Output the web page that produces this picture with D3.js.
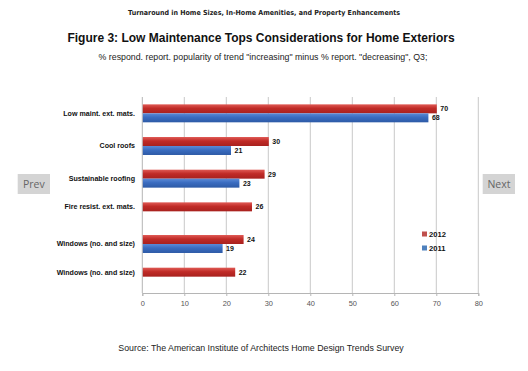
<!DOCTYPE html>
<html>
<head>
<meta charset="utf-8">
<script src="https://cdn.jsdelivr.net/npm/d3@7"></script>
<style>
  body { margin: 0; background: #fff; }
  svg { display: block; }
  .cat-label { font-family: "Liberation Sans", Arial, sans-serif; font-size: 7.1px; font-weight: bold; fill: #111; }
  .val-label { font-family: "Liberation Sans", Arial, sans-serif; font-size: 7px; font-weight: bold; fill: #111; }
  .tick-label { font-family: "Liberation Sans", Arial, sans-serif; font-size: 7.4px; fill: #555; }
</style>
</head>
<body>
<div id="chart"></div>
<script>
const width = 528;
const height = 371;

// data
const categories = ["Low maint. ext. mats.", "Cool roofs", "Sustainable roofing", "Fire resist. ext. mats.", "Windows (no. and size)", "Windows (no. and size) "];
const years = ["2012", "2011"];
const values2012 = [70, 30, 29, 26, 24, 22];
const values2011 = [68, 21, 23, null, 19, null];
const xTicks = [0, 10, 20, 30, 40, 50, 60, 70, 80];

const header = "Turnaround in Home Sizes, In-Home Amenities, and Property Enhancements";
const title = "Figure 3: Low Maintenance Tops Considerations for Home Exteriors";
const subtitle = "% respond. report. popularity of trend \"increasing\" minus % report. \"decreasing\", Q3;";
const source = "Source: The American Institute of Architects Home Design Trends Survey";

const plot = {left: 142.3, right: 478.3, top: 97, bottom: 293};

const svg = d3.select("#chart")
    .append("svg")
    .attr("width", width)
    .attr("height", height)
    .attr("viewBox", `0 0 ${width} ${height}`);

// gradients for the bars
const defs = svg.append("defs");
const grads = {"2012": ["#e05a55", "#c02b27", "#a8211e"], "2011": ["#5b8ad6", "#3a6cc0", "#2d5aa6"]};
years.forEach(yr => {
    const g = defs.append("linearGradient")
        .attr("id", "grad" + yr)
        .attr("x1", 0).attr("y1", 0).attr("x2", 0).attr("y2", 1);
    g.append("stop").attr("offset", "0%").attr("stop-color", grads[yr][0]);
    g.append("stop").attr("offset", "45%").attr("stop-color", grads[yr][1]);
    g.append("stop").attr("offset", "100%").attr("stop-color", grads[yr][2]);
});

// header texts
svg.append("text")
    .text(header)
    .attr("x", 264).attr("y", 14.5)
    .attr("text-anchor", "middle")
    .attr("textLength", 272)
    .attr("lengthAdjust", "spacingAndGlyphs")
    .style("font-family", "'DejaVu Sans', Verdana, sans-serif")
    .style("font-weight", "bold")
    .style("font-size", "7px")
    .style("fill", "#222");

svg.append("text")
    .text(title)
    .attr("x", 261).attr("y", 42)
    .attr("text-anchor", "middle")
    .style("font-family", "'Liberation Sans', Arial, sans-serif")
    .style("font-weight", "bold")
    .style("font-size", "12px")
    .style("fill", "#111");

svg.append("text")
    .text(subtitle)
    .attr("x", 263).attr("y", 60)
    .attr("text-anchor", "middle")
    .style("font-family", "'Liberation Sans', Arial, sans-serif")
    .style("font-size", "8.8px")
    .style("fill", "#222");

svg.append("text")
    .text(source)
    .attr("x", 261).attr("y", 351)
    .attr("text-anchor", "middle")
    .style("font-family", "'Liberation Sans', Arial, sans-serif")
    .style("font-size", "8.8px")
    .style("fill", "#222");

// scales
const xScale = d3.scaleLinear()
    .domain([0, 80])
    .range([plot.left, plot.right]);

const yScale = d3.scaleBand()
    .domain(categories)
    .range([plot.top, plot.bottom])
    .paddingInner(0.45)
    .paddingOuter(0.225);

const ySub = d3.scaleBand()
    .domain(years)
    .range([0, yScale.bandwidth()]);

// gridlines
svg.append("g")
    .selectAll("line")
    .data(xTicks.slice(1))
    .join("line")
    .attr("x1", d => xScale(d)).attr("x2", d => xScale(d))
    .attr("y1", plot.top).attr("y2", plot.bottom)
    .attr("stroke", "#c9c9c9")
    .attr("stroke-width", 1);

// axes
const bottomAxis = d3.axisBottom(xScale)
    .tickValues(xTicks)
    .tickSize(3)
    .tickPadding(5);

const axisG = svg.append("g")
    .attr("transform", `translate(0, ${plot.bottom})`)
    .call(bottomAxis);
axisG.select(".domain").attr("stroke", "#b5b5b5");
axisG.selectAll(".tick line").attr("stroke", "#b5b5b5");
axisG.selectAll(".tick text").attr("class", "tick-label");

svg.append("line")
    .attr("x1", xScale(0)).attr("x2", xScale(0))
    .attr("y1", plot.top).attr("y2", plot.bottom)
    .attr("stroke", "#b5b5b5");

// rows
const rows = categories.map((c, i) => ({cat: c, v2012: values2012[i], v2011: values2011[i]}));

rows.forEach(r => {
    const y0 = yScale(r.cat);
    const present = [];
    years.forEach(yr => {
        const v = yr === "2012" ? r.v2012 : r.v2011;
        if (v == null) return;
        const by = y0 + ySub(yr);
        present.push(by + ySub.bandwidth() / 2);
        svg.append("rect")
            .attr("x", xScale(0) + 0.5)
            .attr("y", by)
            .attr("width", xScale(v) - xScale(0))
            .attr("height", ySub.bandwidth())
            .attr("fill", `url(#grad${yr})`);
        svg.append("text")
            .attr("class", "val-label")
            .text(v)
            .attr("x", xScale(v) + 4)
            .attr("y", by + ySub.bandwidth() / 2)
            .attr("dy", "0.35em");
    });
    svg.append("text")
        .attr("class", "cat-label")
        .text(r.cat.trim())
        .attr("x", 135)
        .attr("y", d3.mean(present))
        .attr("dy", "0.35em")
        .attr("text-anchor", "end");
});

// legend
const legendColors = {"2012": "#c0504d", "2011": "#4f81bd"};
years.forEach((yr, i) => {
    const ly = 234 + i * 14;
    svg.append("rect")
        .attr("x", 422).attr("y", ly - 2.5)
        .attr("width", 5).attr("height", 5)
        .attr("fill", legendColors[yr]);
    svg.append("text")
        .attr("class", "val-label")
        .style("font-size", "7.6px")
        .text(yr)
        .attr("x", 429).attr("y", ly)
        .attr("dy", "0.35em");
});

// nav buttons
const buttons = [{label: "Prev", x: 17.7}, {label: "Next", x: 482.7}];
buttons.forEach(b => {
    svg.append("rect")
        .attr("x", b.x).attr("y", 174)
        .attr("width", 32.3).attr("height", 20)
        .attr("fill", "#d4d4d4");
    svg.append("text")
        .text(b.label)
        .attr("x", b.x + 16.2).attr("y", 184)
        .attr("dy", "0.35em")
        .attr("text-anchor", "middle")
        .style("font-family", "'Open Sans', Arial, sans-serif")
        .style("font-size", "10.5px")
        .style("fill", "#666");
});
</script>
</body>
</html>
